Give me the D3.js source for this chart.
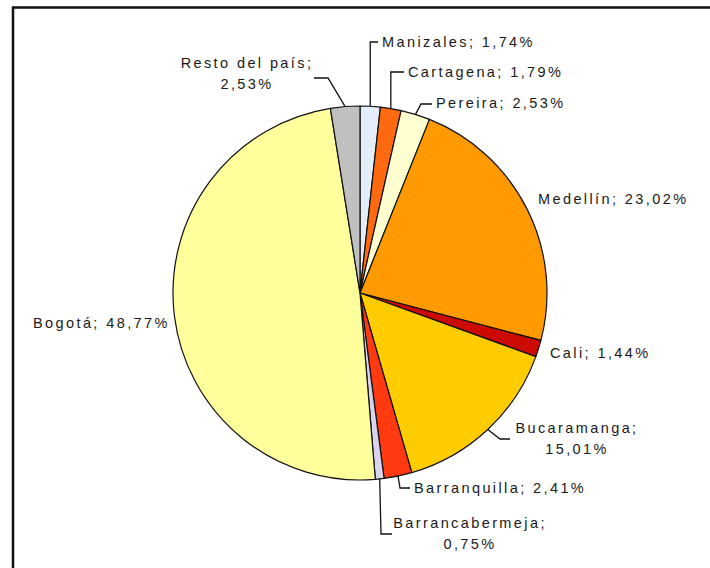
<!DOCTYPE html>
<html>
<head>
<meta charset="utf-8">
<script src="https://cdn.jsdelivr.net/npm/d3@7"></script>
<style>
html,body{margin:0;padding:0;background:#fff;}
svg{display:block;}
</style>
</head>
<body>
<svg id="chart" width="710" height="568"></svg>
<script>
// ---- data ----
const categories = ["Manizales","Cartagena","Pereira","Medellín","Cali","Bucaramanga","Barranquilla","Barrancabermeja","Bogotá","Resto del país"];
const shares = [1.74,1.79,2.53,23.02,1.44,15.01,2.41,0.75,48.77,2.53];
const colors = ["#E4EEFB","#FF6A10","#FFFFD0","#FF9A00","#CC0A00","#FFCC00","#FF3A10","#D8D4F0","#FFFF9C","#C0C0C0"];

// ---- label layout (positions only) ----
const labelLayout = {
  "Manizales":      {x:382, y:42, anchor:"start", lines:1, leader:"v"},
  "Cartagena":      {x:408, y:72, anchor:"start", lines:1, leader:"v"},
  "Pereira":        {x:436, y:103, anchor:"start", lines:1, leader:[[421,104],[432,104]]},
  "Medellín":       {x:538, y:199, anchor:"start", lines:1},
  "Cali":           {x:550, y:353, anchor:"start", lines:1},
  "Bucaramanga":    {x:577, y:428, anchor:"middle", lines:2, leader:[[500,439],[510,439]]},
  "Barranquilla":   {x:414, y:488, anchor:"start", lines:1, leader:[[400,488],[410,488]]},
  "Barrancabermeja":{x:470, y:523, anchor:"middle", lines:2, leader:[[381,534],[392,534]]},
  "Bogotá":         {x:33, y:323, anchor:"start", lines:1},
  "Resto del país": {x:247, y:63, anchor:"middle", lines:2, leader:[[328,78],[314,78]]}
};

const W = 710, H = 568;
const cx = 360, cy = 293, R = 187;
const svg = d3.select("#chart");

// frame
svg.append("rect").attr("x",13).attr("y",7.5).attr("width",730).attr("height",600)
  .attr("fill","#fff").attr("stroke","#111").attr("stroke-width",2.5);

const data = categories.map((c,i)=>({name:c, value:shares[i], color:colors[i]}));
const pie = d3.pie().sort(null).value(d=>d.value).startAngle(0).endAngle(2*Math.PI);
const arcs = pie(data);
const arc = d3.arc().innerRadius(0).outerRadius(R);

const g = svg.append("g").attr("transform",`translate(${cx},${cy})`);
g.selectAll("path.slice").data(arcs).join("path")
  .attr("class","slice")
  .attr("d",arc)
  .attr("fill",d=>d.data.color)
  .attr("stroke","#111")
  .attr("stroke-width",1.2)
  .attr("stroke-linejoin","round");

const fmt = v => d3.format(".2f")(v).replace(".",",") + "%";

// leaders
const lineGen = d3.line();
arcs.forEach(a=>{
  const L = labelLayout[a.data.name];
  if(!L || !L.leader) return;
  const mid = (a.startAngle+a.endAngle)/2;
  const ax = cx + R*Math.sin(mid), ay = cy - R*Math.cos(mid);
  let pts;
  if(L.leader === "v"){
    pts = [[ax,ay],[ax,L.y],[L.x-4,L.y]];
  } else {
    pts = [[ax,ay]].concat(L.leader);
  }
  svg.append("path").attr("d",lineGen(pts)).attr("fill","none")
    .attr("stroke","#111").attr("stroke-width",1.3);
});

// labels
const tg = svg.append("g")
  .attr("font-family","'Liberation Sans', Arial, sans-serif")
  .attr("font-size","14.5px")
  .attr("fill","#1a1a1a");
arcs.forEach(a=>{
  const L = labelLayout[a.data.name];
  const t = tg.append("text").attr("x",L.x).attr("y",L.y)
    .attr("text-anchor",L.anchor).attr("dominant-baseline","central")
    .attr("letter-spacing","2.4px");
  if(L.lines===2){
    t.append("tspan").attr("x",L.x).attr("dy",0).text(a.data.name+";");
    t.append("tspan").attr("x",L.x).attr("dy","1.45em").text(fmt(a.data.value));
  } else {
    t.text(a.data.name+"; "+fmt(a.data.value));
  }
});
</script>
</body>
</html>
